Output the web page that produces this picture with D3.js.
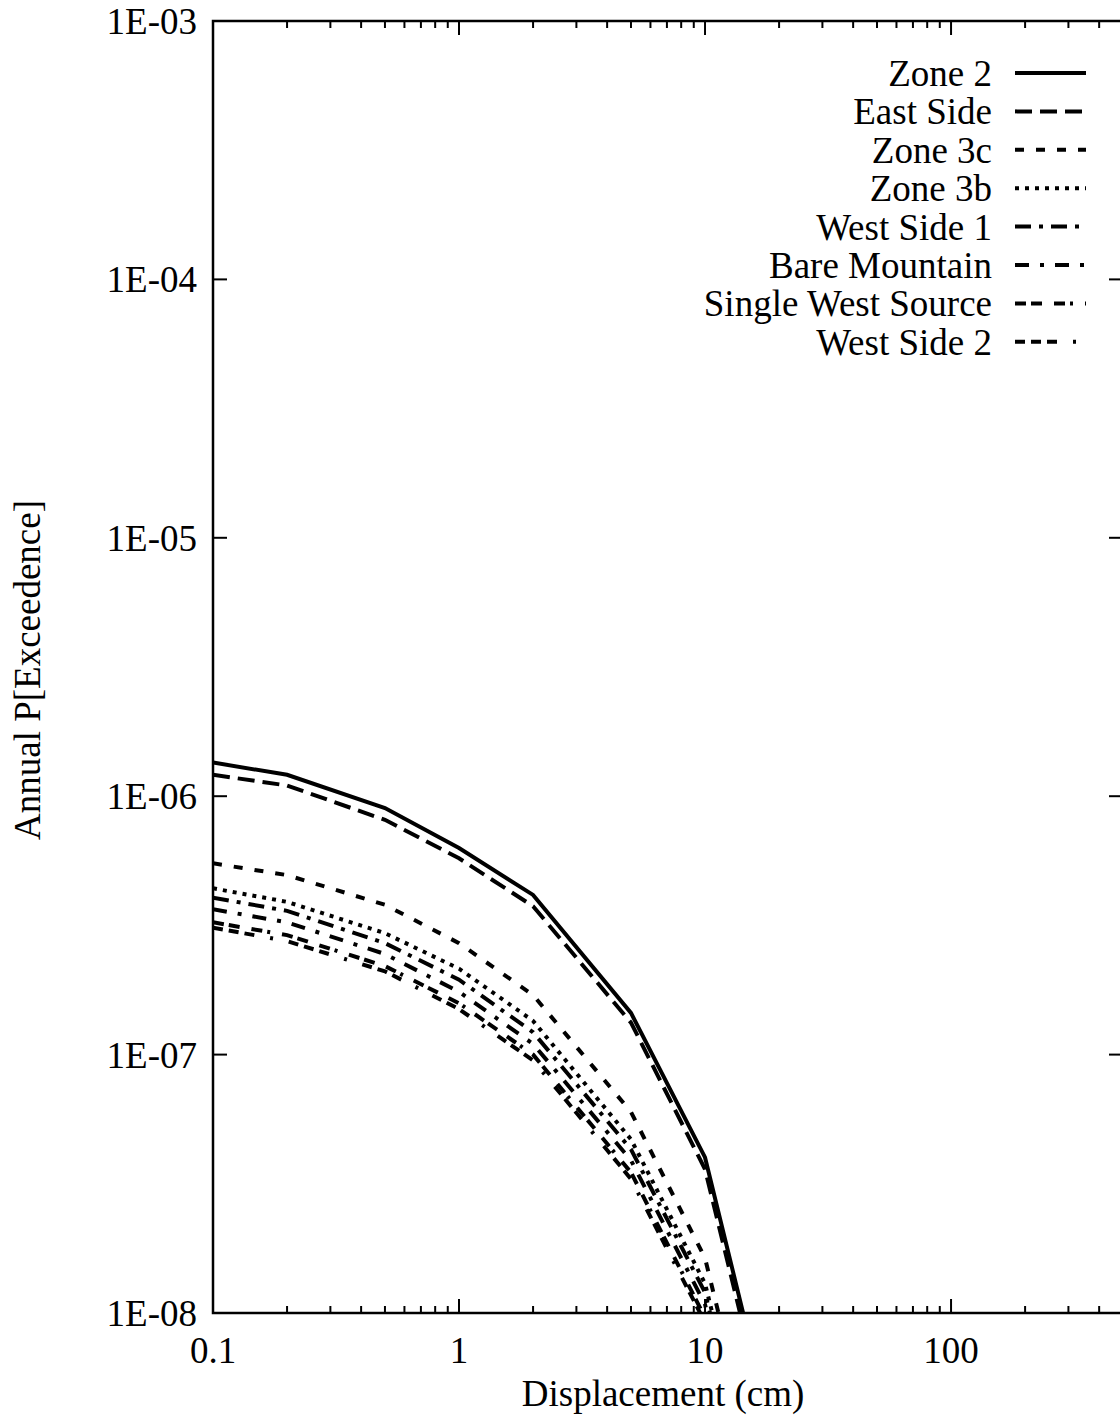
<!DOCTYPE html>
<html>
<head>
<meta charset="utf-8">
<script src="https://cdn.jsdelivr.net/npm/d3@7"></script>
<style>
  html, body { margin: 0; padding: 0; background: #fff; }
  svg { display: block; font-family: 'Liberation Serif', 'Times New Roman', serif; }
</style>
</head>
<body>
<div id="chart"></div>
<script>
// Data
const displacement = [0.1, 0.2, 0.5, 1, 2, 5, 10, 20];
const seriesNames = ['Zone 2', 'East Side', 'Zone 3c', 'Zone 3b', 'West Side 1', 'Bare Mountain', 'Single West Source', 'West Side 2'];
const zone2 = [1.35e-6, 1.21e-6, 9.0e-7, 6.3e-7, 4.15e-7, 1.45e-7, 4.0e-8, 2.7e-9];
const eastSide = [1.21e-6, 1.10e-6, 8.1e-7, 5.75e-7, 3.75e-7, 1.33e-7, 3.6e-8, 2.4e-9];
const zone3c = [5.5e-7, 4.95e-7, 3.8e-7, 2.7e-7, 1.7e-7, 6.0e-8, 1.63e-8, 1.1e-9];
const zone3b = [4.4e-7, 3.9e-7, 2.95e-7, 2.15e-7, 1.35e-7, 4.7e-8, 1.3e-8, 9e-10];
const westSide1 = [4.05e-7, 3.6e-7, 2.7e-7, 1.95e-7, 1.22e-7, 4.3e-8, 1.2e-8, 8e-10];
const bareMountain = [3.65e-7, 3.25e-7, 2.45e-7, 1.75e-7, 1.1e-7, 3.9e-8, 1.08e-8, 7e-10];
const singleWestSource = [3.25e-7, 2.9e-7, 2.2e-7, 1.58e-7, 1.0e-7, 3.5e-8, 9.6e-9, 6.5e-10];
const westSide2 = [3.1e-7, 2.75e-7, 2.1e-7, 1.5e-7, 9.5e-8, 3.3e-8, 9.2e-9, 6e-10];
const xTickValues = [0.1, 1, 10, 100];
const xTickLabels = ['0.1', '1', '10', '100'];
const yTickValues = [1e-8, 1e-7, 1e-6, 1e-5, 1e-4, 1e-3];
const yTickLabels = ['1E-08', '1E-07', '1E-06', '1E-05', '1E-04', '1E-03'];

const allValues = [zone2, eastSide, zone3c, zone3b, westSide1, bareMountain, singleWestSource, westSide2];
const dashes = [null, '17,8', '9,12', '4,6', '16,8,4,8', '14,11,4,11', '11,5,11,12,11,5,3,12', '10,6,10,6,10,16,3,16'];

const series = seriesNames.map((name, i) => ({
  name: name,
  dash: dashes[i],
  points: displacement.map((d, j) => ({x: d, y: allValues[i][j]}))
}));

// Size and scales
const W = 1120, H = 1417;
const plot = {left: 213, right: 1123, top: 21, bottom: 1313};
const x = d3.scaleLog().domain([0.1, 500]).range([plot.left, plot.right]);
const y = d3.scaleLog().domain([1e-8, 1e-3]).range([plot.bottom, plot.top]);
const line = d3.line().x(d => x(d.x)).y(d => y(d.y));

const svg = d3.select('#chart').append('svg')
  .attr('width', W)
  .attr('height', H);

svg.append('defs').append('clipPath').attr('id', 'plot-clip')
  .append('rect')
  .attr('x', plot.left).attr('y', plot.top)
  .attr('width', plot.right - plot.left).attr('height', plot.bottom - plot.top);

// Ticks pointing inward: x gets log minor ticks, y only the decades
const xMinor = [];
for (let p = -1; p <= 2; p++) {
  for (let m = 2; m <= 9; m++) {
    const v = m * Math.pow(10, p);
    if (v <= 500) xMinor.push(v);
  }
}

const ticks = svg.append('g').attr('stroke', '#000').attr('stroke-width', 2);
const tickLines = (vals, len, axis) => {
  vals.forEach(v => {
    if (axis === 'x') {
      ticks.append('line').attr('x1', x(v)).attr('x2', x(v)).attr('y1', plot.bottom).attr('y2', plot.bottom - len);
      ticks.append('line').attr('x1', x(v)).attr('x2', x(v)).attr('y1', plot.top).attr('y2', plot.top + len);
    } else {
      ticks.append('line').attr('y1', y(v)).attr('y2', y(v)).attr('x1', plot.left).attr('x2', plot.left + len);
      ticks.append('line').attr('y1', y(v)).attr('y2', y(v)).attr('x1', plot.right).attr('x2', plot.right - len);
    }
  });
};
tickLines(xMinor, 7, 'x');
tickLines(xTickValues, 14, 'x');
tickLines(yTickValues, 14, 'y');

// Frame
svg.append('rect')
  .attr('x', plot.left).attr('y', plot.top)
  .attr('width', plot.right - plot.left).attr('height', plot.bottom - plot.top)
  .attr('fill', 'none')
  .attr('stroke', '#000')
  .attr('stroke-width', 2.5);

// Tick labels
svg.append('g').selectAll('text')
  .data(xTickValues).enter().append('text')
  .attr('x', d => x(d))
  .attr('y', plot.bottom + 50)
  .attr('text-anchor', 'middle')
  .attr('font-size', 37)
  .text((d, i) => xTickLabels[i]);

svg.append('g').selectAll('text')
  .data(yTickValues).enter().append('text')
  .attr('x', plot.left - 16)
  .attr('y', d => y(d))
  .attr('dy', '0.35em')
  .attr('text-anchor', 'end')
  .attr('font-size', 37)
  .text((d, i) => yTickLabels[i]);

// Axis titles
svg.append('text')
  .attr('x', 663).attr('y', 1406)
  .attr('text-anchor', 'middle')
  .attr('font-size', 37)
  .text('Displacement (cm)');

svg.append('text')
  .attr('transform', 'translate(40,670) rotate(-90)')
  .attr('text-anchor', 'middle')
  .attr('font-size', 37)
  .text('Annual P[Exceedence]');

// Curves
svg.append('g').attr('clip-path', 'url(#plot-clip)')
  .selectAll('path')
  .data(series).enter().append('path')
  .attr('fill', 'none')
  .attr('stroke', '#000')
  .attr('stroke-width', 4)
  .attr('stroke-dasharray', d => d.dash)
  .attr('d', d => line(d.points));

// Legend
const legend = svg.append('g').selectAll('g')
  .data(series).enter().append('g')
  .attr('transform', (d, i) => 'translate(0,' + (73 + i * 38.4) + ')');
legend.append('text')
  .attr('x', 992)
  .attr('dy', '0.35em')
  .attr('text-anchor', 'end')
  .attr('font-size', 37)
  .text(d => d.name);
legend.append('line')
  .attr('x1', 1015).attr('x2', 1086)
  .attr('stroke', '#000')
  .attr('stroke-width', 4)
  .attr('stroke-dasharray', d => d.dash);
</script>
</body>
</html>
